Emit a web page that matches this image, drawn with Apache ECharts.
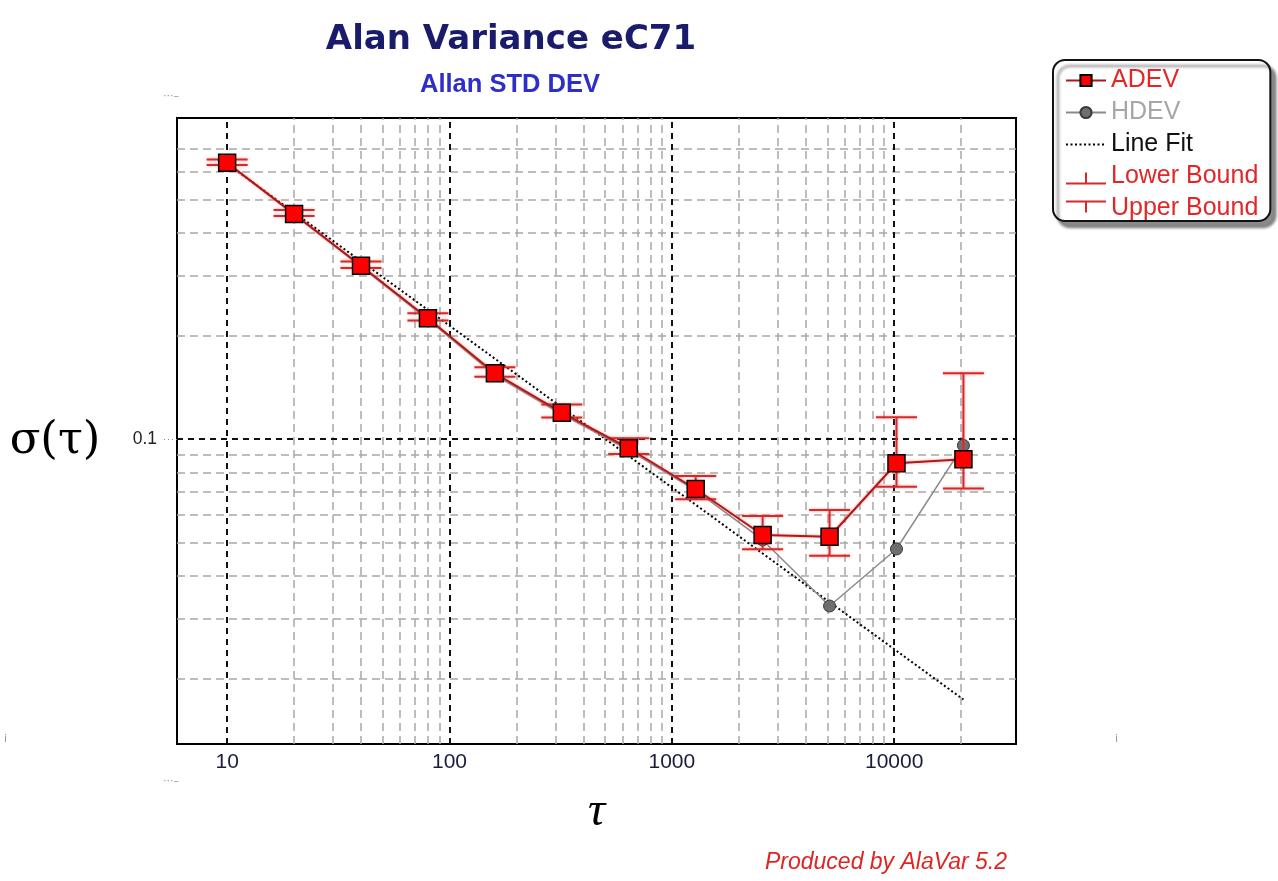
<!DOCTYPE html>
<html>
<head>
<meta charset="utf-8">
<script src="https://cdn.jsdelivr.net/npm/echarts@6/dist/echarts.min.js"></script>
<style>
html,body{margin:0;padding:0;background:#fff;}
#chart{width:1278px;height:881px;}
</style>
</head>
<body>
<div id="chart"></div>
<script>
// ---- data ----
const tau = [10, 20, 40, 80, 160, 320, 640, 1280, 2560, 5120, 10240, 20480];
const adev = [0.639, 0.453, 0.320, 0.225, 0.1554, 0.1193, 0.0940, 0.0715, 0.0525, 0.0519, 0.0850, 0.0873];
const hdev = [0.637, 0.451, 0.318, 0.223, 0.1535, 0.118, 0.0928, 0.0708, 0.0508, 0.0326, 0.0478, 0.0958];
const upperBound = [0.653, 0.465, 0.329, 0.2325, 0.162, 0.126, 0.1005, 0.078, 0.0596, 0.0621, 0.1157, 0.1554];
const lowerBound = [0.629, 0.447, 0.315, 0.2216, 0.152, 0.1155, 0.0904, 0.0667, 0.0477, 0.0457, 0.0726, 0.0718];
const fitTau = [10, 20480];
const fitValues = [0.634, 0.0174];
const xMajorGrid = [10, 100, 1000, 10000];
const xMinorGrid = [20, 30, 40, 50, 60, 70, 80, 90, 200, 300, 400, 500, 600, 700, 800, 900,
                    2000, 3000, 4000, 5000, 6000, 7000, 8000, 9000, 20000];
const yMajorGrid = [0.1];
const yMinorGrid = [0.02, 0.03, 0.04, 0.05, 0.06, 0.07, 0.08, 0.09, 0.2, 0.3, 0.4, 0.5, 0.6, 0.7];
const xRange = [5.95, 35300];
const yRange = [0.01291, 0.8627];

const RED = '#d42a2a';
const majorStyle = { color: '#111', width: 2, type: [6, 5] };
const minorStyle = { color: '#a8a8a8', width: 1.5, type: [8, 5] };

const gridLines = []
  .concat(xMinorGrid.map(v => ({ xAxis: v, lineStyle: minorStyle })))
  .concat(yMinorGrid.map(v => ({ yAxis: v, lineStyle: minorStyle })))
  .concat(xMajorGrid.map(v => ({ xAxis: v, lineStyle: majorStyle })))
  .concat(yMajorGrid.map(v => ({ yAxis: v, lineStyle: majorStyle })));

function isPow10(v) {
  const l = Math.log10(v);
  return Math.abs(l - Math.round(l)) < 1e-6;
}

function boundRenderer(params, api) {
  const x = api.value(0), c = api.value(1), b = api.value(2);
  const p0 = api.coord([x, c]);
  const p1 = api.coord([x, b]);
  const style = { stroke: RED, lineWidth: 2, shadowBlur: 3, shadowColor: 'rgba(255,90,90,0.6)' };
  return {
    type: 'group',
    children: [
      { type: 'line', shape: { x1: p0[0], y1: p0[1], x2: p1[0], y2: p1[1] }, style: style },
      { type: 'line', shape: { x1: p1[0] - 20.5, y1: p1[1], x2: p1[0] + 20.5, y2: p1[1] }, style: style }
    ]
  };
}

const chart = echarts.init(document.getElementById('chart'), null, { renderer: 'canvas' });

const option = {
  backgroundColor: '#ffffff',
  animation: false,
  title: [
    {
      text: 'Alan Variance eC71', left: 511, top: 23, textAlign: 'center', padding: 0,
      textStyle: { fontFamily: 'DejaVu Sans', fontWeight: 'bold', fontSize: 34, lineHeight: 34, color: '#1b1b6b' }
    },
    {
      text: 'Allan STD DEV', left: 510, top: 72, textAlign: 'center', padding: 0,
      textStyle: { fontFamily: 'Liberation Sans', fontWeight: 'bold', fontSize: 25.5, lineHeight: 25, color: '#2e2ec8' }
    },
    {
      text: 'Produced by AlaVar 5.2', left: 886, top: 851, textAlign: 'center', padding: 0,
      textStyle: { fontFamily: 'Liberation Sans', fontStyle: 'italic', fontWeight: 'normal', fontSize: 23, lineHeight: 23, color: '#e02424' }
    }
  ],
  legend: {
    orient: 'vertical', left: 1053, top: 60,
    padding: [8, 12, 0, 12],
    itemWidth: 40, itemHeight: 14, itemGap: 7,
    backgroundColor: '#fff', borderColor: '#111', borderWidth: 2, borderRadius: 12,
    shadowColor: 'rgba(0,0,0,0.45)', shadowBlur: 3, shadowOffsetX: 5, shadowOffsetY: 6,
    selectedMode: false,
    textStyle: { fontFamily: 'Liberation Sans', fontSize: 25, lineHeight: 25 },
    data: [
      { name: 'ADEV', textStyle: { color: '#e32626' } },
      { name: 'HDEV', textStyle: { color: '#a6a6a6' } },
      { name: 'Line Fit', textStyle: { color: '#111' }, itemStyle: { color: 'rgba(0,0,0,0)', borderWidth: 0 } },
      { name: 'Lower Bound', textStyle: { color: '#e02828' },
        icon: 'path://M0 0 M40 14 M0 14 L40 14 M20 3 L20 14',
        itemStyle: { color: 'rgba(0,0,0,0)', borderColor: RED, borderWidth: 2 } },
      { name: 'Upper Bound', textStyle: { color: '#e02828' },
        icon: 'path://M0 14 M40 0 M0 0 L40 0 M20 0 L20 11',
        itemStyle: { color: 'rgba(0,0,0,0)', borderColor: RED, borderWidth: 2 } }
    ]
  },
  grid: {
    left: 177, right: 262, top: 118, bottom: 137,
    show: true, borderColor: '#000', borderWidth: 2, backgroundColor: '#fff'
  },
  xAxis: {
    type: 'log', logBase: 10, min: xRange[0], max: xRange[1],
    name: 'τ', nameLocation: 'middle', nameGap: 44,
    nameTextStyle: { fontFamily: 'Liberation Serif', fontStyle: 'italic', fontSize: 48, lineHeight: 48, color: '#000' },
    axisLine: { show: true, onZero: false, lineStyle: { color: '#000', width: 2 } },
    axisTick: { show: false },
    splitLine: { show: false },
    axisLabel: {
      margin: 8, fontFamily: 'Liberation Sans', fontSize: 21, color: '#1c1c3c',
      formatter: v => isPow10(v) ? String(Math.round(v)) : ''
    }
  },
  yAxis: {
    type: 'log', logBase: 10, min: yRange[0], max: yRange[1],
    axisLine: { show: true, lineStyle: { color: '#000', width: 2 } },
    axisTick: { show: true, length: 16, customValues: [0.1], lineStyle: { color: '#888', width: 1, type: [1, 3] } },
    splitLine: { show: false },
    axisLabel: {
      margin: 20, fontFamily: 'Liberation Sans', fontSize: 17.5, color: '#222',
      formatter: v => isPow10(v) ? String(Math.round(v * 10) / 10) : ''
    }
  },
  series: [
    {
      name: 'Line Fit', type: 'line', z: 3,
      data: fitTau.map((t, i) => [t, fitValues[i]]),
      symbol: 'none', silent: true,
      lineStyle: { color: '#000', width: 2, type: [2, 2.5] },
      markLine: {
        silent: true, symbol: 'none', z: 1, animation: false,
        label: { show: false },
        emphasis: { disabled: true },
        data: gridLines
      }
    },
    {
      name: 'HDEV', type: 'line', z: 3,
      data: tau.map((t, i) => [t, hdev[i]]),
      symbol: 'circle', symbolSize: 12, showAllSymbol: true,
      lineStyle: { color: '#8a8a8a', width: 1.5 },
      itemStyle: { color: '#6e6e6e', borderColor: '#3a3a3a', borderWidth: 1 }
    },
    {
      name: 'Lower Bound', type: 'custom', z: 4,
      itemStyle: { color: RED },
      data: tau.map((t, i) => [t, adev[i], lowerBound[i]]),
      encode: { x: 0, y: [1, 2] },
      renderItem: boundRenderer
    },
    {
      name: 'Upper Bound', type: 'custom', z: 4,
      itemStyle: { color: RED },
      data: tau.map((t, i) => [t, adev[i], upperBound[i]]),
      encode: { x: 0, y: [1, 2] },
      renderItem: boundRenderer
    },
    {
      name: 'ADEV', type: 'line', z: 5,
      data: tau.map((t, i) => [t, adev[i]]),
      symbol: 'rect', symbolSize: 17, showAllSymbol: true,
      lineStyle: { color: '#b01818', width: 2, shadowBlur: 3, shadowColor: 'rgba(255,80,80,0.6)' },
      itemStyle: { color: '#ff0000', borderColor: '#000', borderWidth: 1.5 }
    }
  ],
  graphic: [
    { type: 'text', x: 55, y: 441, silent: true,
      style: { text: 'σ(τ)', fontSize: 45, fontFamily: 'DejaVu Serif', fill: '#000', align: 'center', verticalAlign: 'middle' } },
    { type: 'text', left: 163, top: 91, silent: true, style: { text: '···–', fontSize: 11, fill: '#999', fontFamily: 'DejaVu Sans' } },
    { type: 'text', left: 163, top: 776, silent: true, style: { text: '···–', fontSize: 11, fill: '#999', fontFamily: 'DejaVu Sans' } },
    { type: 'text', left: 4, top: 734, silent: true, style: { text: 'i', fontSize: 11, fill: '#999', fontFamily: 'DejaVu Sans' } },
    { type: 'text', left: 1115, top: 734, silent: true, style: { text: 'i', fontSize: 11, fill: '#999', fontFamily: 'DejaVu Sans' } }
  ]
};

chart.setOption(option);
</script>
</body>
</html>
